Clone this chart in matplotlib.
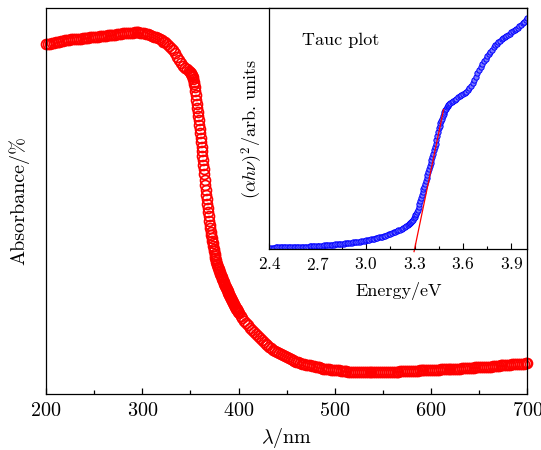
import numpy as np
import matplotlib
matplotlib.use('Agg')
import matplotlib.pyplot as plt

plt.rcParams['font.family'] = 'cmr10'
plt.rcParams['mathtext.fontset'] = 'cm'
plt.rcParams['axes.formatter.use_mathtext'] = True

# absorption spectrum, wavelength in nm (finer step across the band edge)
wl_a = np.linspace(200, 348, 75)
abs_a = [90.6, 90.7, 90.8, 90.9, 91.0, 91.1, 91.2, 91.3, 91.4, 91.5,
         91.6, 91.7, 91.8, 91.9, 91.9, 92.0, 92.0, 92.1, 92.1, 92.2,
         92.2, 92.3, 92.3, 92.4, 92.4, 92.5, 92.6, 92.6, 92.7, 92.7,
         92.8, 92.8, 92.9, 92.9, 93.0, 93.1, 93.1, 93.2, 93.3, 93.3,
         93.4, 93.4, 93.5, 93.5, 93.6, 93.6, 93.7, 93.7, 93.7, 93.6,
         93.5, 93.4, 93.3, 93.2, 93.0, 92.8, 92.6, 92.4, 92.2, 91.9,
         91.6, 91.3, 91.1, 90.7, 90.2, 89.7, 89.0, 88.3, 87.4, 86.5,
         85.7, 85.0, 84.5, 84.1, 83.7]

wl_b = np.linspace(350, 399.5, 100)
abs_b = [83.3, 83.1, 82.9, 82.6, 82.4, 82.0, 81.5, 80.9, 80.3, 79.5,
         78.5, 77.4, 76.2, 75.2, 74.1, 73.1, 72.0, 70.9, 69.8, 68.7,
         67.6, 66.4, 65.2, 64.1, 62.9, 61.7, 60.6, 59.4, 58.3, 56.9,
         55.5, 54.2, 52.8, 51.6, 50.5, 49.3, 48.2, 47.1, 46.0, 44.9,
         43.8, 42.9, 42.1, 41.2, 40.4, 39.7, 39.0, 38.3, 37.6, 37.0,
         36.4, 35.8, 35.2, 34.7, 34.3, 33.8, 33.4, 33.0, 32.6, 32.3,
         31.9, 31.6, 31.2, 30.9, 30.5, 30.2, 29.8, 29.5, 29.2, 28.9,
         28.6, 28.3, 28.0, 27.7, 27.5, 27.2, 26.9, 26.7, 26.4, 26.2,
         25.9, 25.7, 25.4, 25.2, 24.9, 24.6, 24.4, 24.1, 23.8, 23.6,
         23.3, 23.1, 22.8, 22.6, 22.4, 22.1, 21.9, 21.7, 21.4, 21.2]

wl_c = np.linspace(400, 700, 151)
abs_c = [21.1, 20.2, 19.6, 19.0, 18.4, 17.8, 17.2, 16.6, 16.1, 15.5,
         15.0, 14.5, 14.0, 13.5, 13.0, 12.6, 12.2, 11.8, 11.4, 11.1,
         10.8, 10.5, 10.3, 10.0, 9.8, 9.5, 9.3, 9.1, 8.8, 8.6,
         8.4, 8.2, 8.0, 7.9, 7.8, 7.6, 7.5, 7.4, 7.3, 7.2,
         7.1, 7.0, 6.9, 6.8, 6.6, 6.6, 6.5, 6.4, 6.3, 6.3,
         6.2, 6.1, 6.1, 6.0, 6.0, 5.9, 5.9, 5.8, 5.8, 5.8,
         5.7, 5.7, 5.7, 5.7, 5.7, 5.7, 5.7, 5.7, 5.7, 5.7,
         5.7, 5.7, 5.7, 5.7, 5.7, 5.7, 5.8, 5.8, 5.8, 5.8,
         5.8, 5.8, 5.8, 5.8, 5.9, 5.9, 5.9, 5.9, 5.9, 6.0,
         6.0, 6.0, 6.0, 6.0, 6.1, 6.1, 6.1, 6.1, 6.2, 6.2,
         6.2, 6.2, 6.3, 6.3, 6.3, 6.4, 6.4, 6.4, 6.5, 6.5,
         6.5, 6.5, 6.6, 6.6, 6.6, 6.6, 6.7, 6.7, 6.7, 6.7,
         6.8, 6.8, 6.8, 6.9, 6.9, 6.9, 7.0, 7.0, 7.0, 7.1,
         7.1, 7.1, 7.2, 7.2, 7.3, 7.3, 7.4, 7.4, 7.5, 7.5,
         7.6, 7.6, 7.7, 7.7, 7.8, 7.8, 7.8, 7.9, 7.9, 8.0,
         8.0]

# Tauc plot, photon energy in eV
en_a = np.linspace(2.40, 3.25, 86)
tauc_a = [0.7, 0.7, 0.7, 0.7, 0.8, 0.8, 0.8, 0.8, 0.8, 0.9,
          0.9, 0.9, 0.9, 0.9, 0.9, 0.9, 1.0, 1.0, 1.0, 1.0,
          1.0, 1.0, 1.1, 1.1, 1.1, 1.2, 1.2, 1.3, 1.3, 1.3,
          1.4, 1.4, 1.5, 1.5, 1.6, 1.6, 1.7, 1.7, 1.8, 1.8,
          1.9, 2.0, 2.1, 2.2, 2.2, 2.3, 2.4, 2.5, 2.6, 2.7,
          2.8, 2.8, 2.9, 3.0, 3.0, 3.1, 3.2, 3.4, 3.5, 3.6,
          3.8, 3.9, 4.0, 4.2, 4.3, 4.4, 4.6, 4.7, 4.9, 5.1,
          5.3, 5.5, 5.7, 6.0, 6.3, 6.5, 6.8, 7.0, 7.3, 7.6,
          7.9, 8.1, 8.4, 8.8, 9.2, 9.6]

en_b = np.linspace(3.26, 3.515, 52)
tauc_b = [10.1, 10.4, 10.7, 11.0, 11.3, 11.8, 12.3, 12.8, 13.4, 14.1,
          14.8, 15.5, 16.3, 17.5, 18.8, 20.0, 21.3, 22.5, 23.6, 24.8,
          26.0, 27.1, 28.3, 29.5, 30.8, 32.0, 33.3, 34.5, 35.8, 37.1,
          38.4, 39.7, 41.0, 42.3, 43.6, 45.3, 47.0, 48.7, 50.3, 51.3,
          52.3, 53.2, 54.2, 55.1, 56.1, 56.9, 57.6, 58.3, 59.0, 59.4,
          59.8, 60.2]

en_c = np.linspace(3.52, 4.00, 49)
tauc_c = [60.6, 61.1, 61.6, 62.1, 62.5, 63.0, 63.4, 63.9, 64.3, 64.8,
          65.3, 65.9, 66.7, 67.8, 69.0, 70.3, 71.6, 72.9, 74.2, 75.6,
          77.0, 78.0, 79.0, 80.0, 80.9, 81.9, 82.8, 83.8, 84.7, 85.3,
          85.9, 86.5, 87.0, 87.6, 88.0, 88.5, 89.0, 89.4, 89.9, 90.3,
          90.9, 91.4, 91.9, 92.5, 93.0, 93.7, 94.4, 95.2, 95.9]

# linear fit of the absorption edge
eg = 3.30
fit_slope = 322.0
fit_en = np.array([3.297, 3.48])

wl = np.concatenate([wl_a, wl_b, wl_c])
absorb = np.concatenate([abs_a, abs_b, abs_c])
en = np.concatenate([en_a, en_b, en_c])
tauc = np.concatenate([tauc_a, tauc_b, tauc_c])

fig = plt.figure(figsize=(5.41, 4.5), dpi=100)
ax = fig.add_axes([0.085, 0.1244, 0.890, 0.8578])
ax.plot(wl, absorb, 'o', ms=7.2, mfc='none', mec='red', mew=1.2, clip_on=False)
ax.set_xlim(200, 700)
ax.set_ylim(0, 100)
ax.set_xticks(np.arange(200, 701, 100))
ax.set_xticks(np.arange(250, 700, 100), minor=True)
ax.set_yticks([])
ax.tick_params(axis='x', which='major', direction='in', length=4.5, width=0.9,
               labelsize=14.5, pad=6)
ax.tick_params(axis='x', which='minor', direction='in', length=2.7, width=0.9)
ax.set_xlabel(r'$\lambda$/nm', fontsize=14.5, labelpad=4)
ax.set_ylabel('Absorbance/%', fontsize=14.5, labelpad=12)
for s in ax.spines.values():
    s.set_linewidth(0.9)

ins = fig.add_axes([0.4978, 0.446, 0.4772, 0.536])
ins.plot(en, tauc, 'o', ms=3.8, mfc='#7878ff', mec='blue', mew=0.7)
ins.plot(fit_en, fit_slope * (fit_en - eg), color='red', lw=0.9, clip_on=False)
ins.set_xlim(2.4, 4.0)
ins.set_ylim(0, 100)
ins.set_xticks(np.arange(2.4, 3.95, 0.3))
ins.set_xticks(np.arange(2.55, 4.0, 0.3), minor=True)
ins.set_yticks([])
ins.tick_params(axis='x', which='major', direction='in', length=4, width=0.8,
                labelsize=12.5, pad=5)
ins.tick_params(axis='x', which='minor', direction='in', length=2.5, width=0.8)
ins.set_xlabel('Energy/eV', fontsize=13, labelpad=6)
ins.set_ylabel(r'$(\alpha h\nu)^2$/arb. units', fontsize=13, labelpad=3)
ins.text(0.127, 0.847, 'Tauc plot', transform=ins.transAxes, fontsize=13,
         va='baseline')
for s in ins.spines.values():
    s.set_linewidth(0.9)

fig.savefig('out.png', dpi=100)
